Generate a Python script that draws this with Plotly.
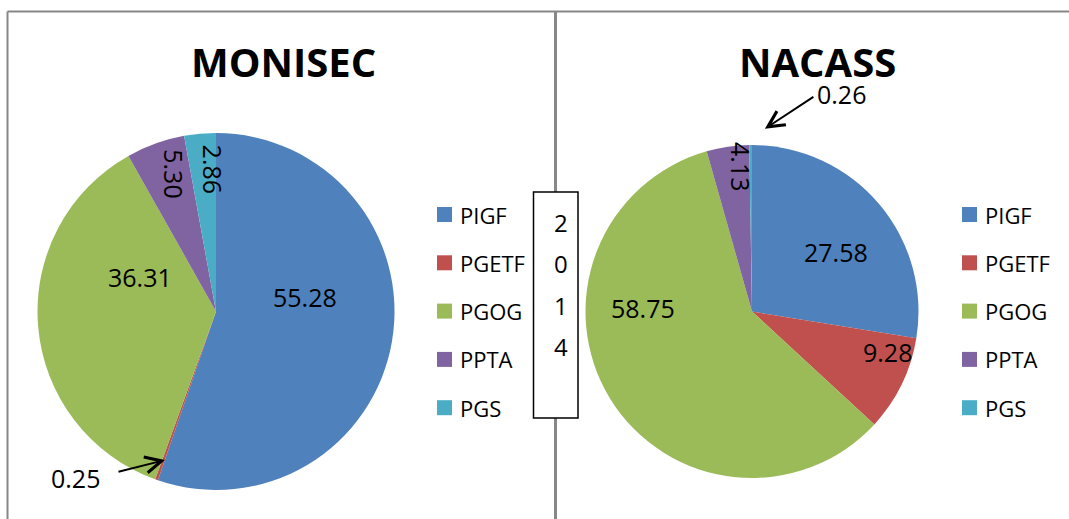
import math
import plotly.graph_objects as go

# ---- data -------------------------------------------------------------
categories = ["PIGF", "PGETF", "PGOG", "PPTA", "PGS"]
monisec_values = [55.28, 0.25, 36.31, 5.30, 2.86]
nacass_values = [27.58, 9.28, 58.75, 4.13, 0.26]
chart_titles = ["MONISEC", "NACASS"]
year_label = "2014"

# ---- styling ----------------------------------------------------------
colors = ["#4F81BD", "#C0504D", "#9BBB59", "#8064A2", "#4BACC6"]
FONT = "Open Sans"
W, H = 1069, 519

# pie geometry in pixels: (centre x, centre y, radius)
pie_geom = [(216, 311.5, 178.5), (752, 311.5, 166.5)]
title_x = [283, 817]
legend_x = [437, 962]
legend_y0, legend_dy = 214.5, 48.3

# label placement per slice: (angle shift from slice middle in degrees,
# radius fraction, text angle); None -> label drawn with a leader arrow
label_spots = [
    [(-18.8, 0.505, 0), None, (29.1, 0.468, 0), (2.6, 0.81, 90), (4.0, 0.80, 90)],
    [(5.1, 0.62, 0), (-9.4, 0.85, 0), (33.4, 0.655, 0), (4.1, 0.875, 90), None],
]
# leader arrows: slice index, tip (angle shift, radius fraction),
# tail offset (px), text centre offset from tail (px)
leaders = [
    (1, (-0.5, 0.88), (-48, 12), (-41, 6)),
    (4, (4.5, 1.10), (50, -33), (27, -2)),
]


def px_to_paper(x, y):
    return x / W, 1 - y / H


def polar(geom, angle_deg, frac):
    cx, cy, r = geom
    a = math.radians(angle_deg)
    return cx + frac * r * math.sin(a), cy - frac * r * math.cos(a)


def mid_angles(values):
    total = sum(values)
    out, acc = [], 0.0
    for v in values:
        out.append((acc + v / 2) / total * 360)
        acc += v
    return out


def text_at(x, y, text, size, angle=0, xanchor="center", bold=False):
    px, py = px_to_paper(x, y)
    return dict(
        x=px, y=py, xref="paper", yref="paper",
        text=f"<b>{text}</b>" if bold else text,
        showarrow=False, textangle=angle,
        xanchor=xanchor, yanchor="middle",
        font=dict(family=FONT, size=size, color="black"),
    )


fig = go.Figure()
annotations = []
shapes = []
all_values = [monisec_values, nacass_values]

for k, values in enumerate(all_values):
    cx, cy, r = pie_geom[k]
    x0, y1 = px_to_paper(cx - r, cy - r)
    x1, y0 = px_to_paper(cx + r, cy + r)
    fig.add_trace(go.Pie(
        labels=categories, values=values, sort=False,
        direction="clockwise", rotation=0,
        marker=dict(colors=colors, line=dict(width=0)),
        textinfo="none", hoverinfo="label+value",
        domain=dict(x=[x0, x1], y=[y0, y1]),
        showlegend=False, name=chart_titles[k],
    ))

    # slice value labels
    mids = mid_angles(values)
    for i, v in enumerate(values):
        spot = label_spots[k][i]
        if spot is None:
            continue
        dth, frac, tang = spot
        lx, ly = polar(pie_geom[k], mids[i] + dth, frac)
        annotations.append(text_at(lx, ly, f"{v:.2f}", 25, angle=tang))

    # chart title
    annotations.append(text_at(title_x[k], 62, chart_titles[k], 40, bold=True))

    # legend
    for i, name in enumerate(categories):
        yy = legend_y0 + i * legend_dy
        sx0, sy0 = px_to_paper(legend_x[k], yy - 7.5)
        sx1, sy1 = px_to_paper(legend_x[k] + 15, yy + 7.5)
        shapes.append(dict(type="rect", xref="paper", yref="paper",
                           x0=sx0, x1=sx1, y0=sy1, y1=sy0,
                           fillcolor=colors[i], line=dict(width=0)))
        annotations.append(text_at(legend_x[k] + 21, yy, name, 22, xanchor="left"))

# leader arrows for the tiny slices
for k, (idx, (dth, frac), (tx, ty), (ox, oy)) in enumerate(leaders):
    values = all_values[k]
    mids = mid_angles(values)
    tipx, tipy = polar(pie_geom[k], mids[idx] + dth, frac)
    px, py = px_to_paper(tipx, tipy)
    annotations.append(dict(
        x=px, y=py, xref="paper", yref="paper", text="",
        showarrow=True, arrowhead=5, arrowsize=1.6, arrowwidth=2,
        arrowcolor="black", ax=tx, ay=ty, standoff=0,
    ))
    annotations.append(text_at(tipx + tx + ox, tipy + ty + oy,
                               f"{values[idx]:.2f}", 25))

# frame and centre divider
grey = "#878787"


def line_px(x0, y0, x1, y1, color, width):
    a, b = px_to_paper(x0, y0)
    c, d = px_to_paper(x1, y1)
    return dict(type="line", xref="paper", yref="paper",
                x0=a, y0=b, x1=c, y1=d, line=dict(color=color, width=width))


shapes.append(line_px(7.5, 11.5, W + 2, 11.5, grey, 2))
shapes.append(line_px(7.5, 11.5, 7.5, H + 2, grey, 2))
shapes.append(line_px(555.5, 11.5, 555.5, H + 2, grey, 3))

# year box
bx0, by0 = px_to_paper(533.5, 192)
bx1, by1 = px_to_paper(578, 418)
shapes.append(dict(type="rect", xref="paper", yref="paper",
                   x0=bx0, x1=bx1, y0=by1, y1=by0,
                   fillcolor="white", line=dict(color="black", width=1.5)))
for j, ch in enumerate(year_label):
    annotations.append(text_at(561, 222 + j * 41.5, ch, 24))

fig.update_layout(
    width=W, height=H,
    margin=dict(l=0, r=0, t=0, b=0),
    paper_bgcolor="white", plot_bgcolor="white",
    shapes=shapes, annotations=annotations,
    showlegend=False,
)

fig.write_html("out.html")
